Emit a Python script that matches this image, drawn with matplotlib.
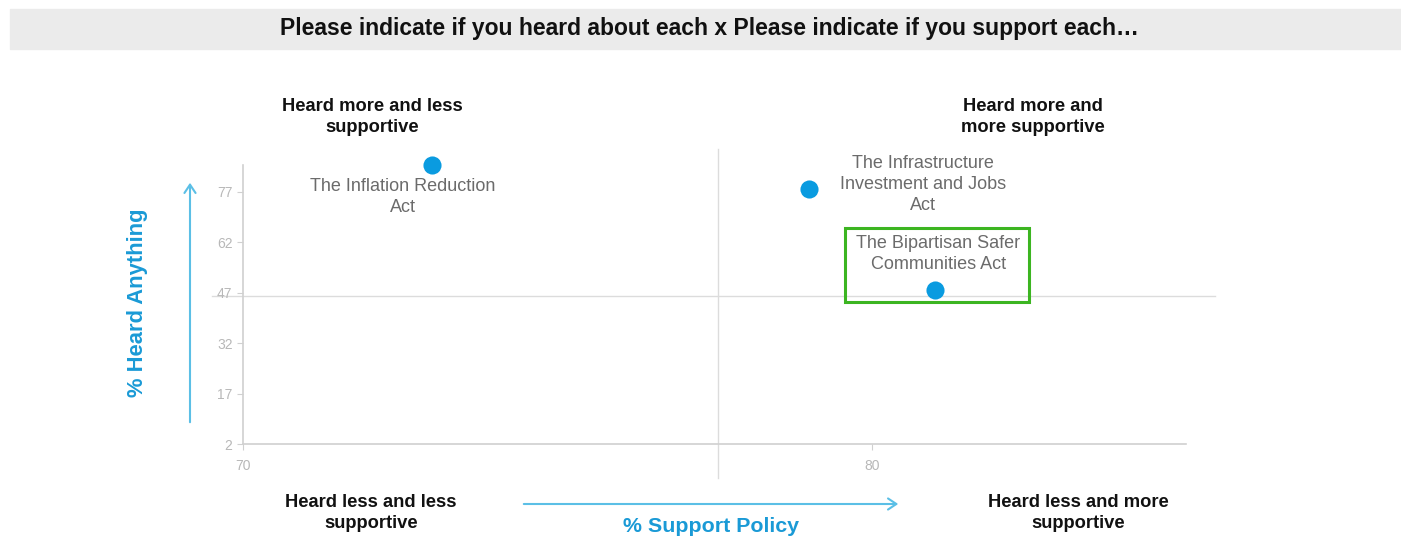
import matplotlib
matplotlib.use('Agg')
import matplotlib.pyplot as plt
from matplotlib.patches import Rectangle, FancyArrowPatch

plt.rcParams['font.family'] = ['Liberation Sans', 'DejaVu Sans']

policies = ['The Inflation Reduction\nAct',
            'The Infrastructure\nInvestment and Jobs\nAct',
            'The Bipartisan Safer\nCommunities Act']
support = [73.0, 79.0, 81.0]
heard = [84.9, 78.0, 47.7]
label_offsets = [(-29, -32), (114, 4), (4, 36)]  # pixels from the dot

x_ticks = [70, 80]
y_ticks = [2, 17, 32, 47, 62, 77]
x_mid = 77.55
y_mid = 46.0

TITLE = 'Please indicate if you heard about each x Please indicate if you support each\u2026'
quadrants = ['Heard more and less\nsupportive', 'Heard more and\nmore supportive',
             'Heard less and less\nsupportive', 'Heard less and more\nsupportive']

DOT = '#0a9be0'
ARROW = '#5bbfe6'
AXIS_LBL = '#1a9ad6'
GRID = '#dcdcdc'

fig = plt.figure(figsize=(14.01, 5.37), dpi=100)

# title band
fig.patches.append(Rectangle((10 / 1401, 1 - 49 / 537), 1391 / 1401, 40 / 537,
                             transform=fig.transFigure, color='#ebebeb', zorder=0))
fig.text(709 / 1401, 1 - 29 / 537, TITLE, ha='center', va='center', fontsize=16.5,
         fontweight='bold', color='#111111')

ax = fig.add_axes([243 / 1401, 1 - 444 / 537, 943 / 1401, 279 / 537])
ax.set_xlim(70, 85)
ax.set_ylim(2, 85)
ax.set_xticks(x_ticks)
ax.set_yticks(y_ticks)
for s in ['top', 'right']:
    ax.spines[s].set_visible(False)
for s in ['left', 'bottom']:
    ax.spines[s].set_color('#d0d0d0')
    ax.spines[s].set_linewidth(1.2)
ax.tick_params(colors='#d0d0d0', labelcolor='#b8b8b8', labelsize=10, length=4)
ax.tick_params(axis='x', pad=7)

# quadrant lines, running past the plot area
ax.plot([x_mid, x_mid], [-8.1, 89.9], color=GRID, lw=1, clip_on=False, zorder=1)
ax.plot([69.5, 85.46], [y_mid, y_mid], color=GRID, lw=1, clip_on=False, zorder=1)

ax.scatter(support, heard, s=170, color=DOT, zorder=3, clip_on=False, linewidths=0)
for name, x, y, off in zip(policies, support, heard, label_offsets):
    ax.annotate(name, (x, y), xytext=off, textcoords='offset pixels', ha='center',
                va='center', fontsize=13, color='#6b6b6b', linespacing=1.3)

# highlight box round the safer communities act
ax.add_patch(Rectangle((79.57, 44.2), 2.94, 22.2, fill=False, edgecolor='#3cb521',
                       lw=2.2, clip_on=False, zorder=4))

# quadrant captions
qpos = [(372, 117), (1033, 117), (371, 513), (1078, 513)]
for txt, (px, py) in zip(quadrants, qpos):
    fig.text(px / 1401, 1 - py / 537, txt, ha='center', va='center', fontsize=13.2,
             fontweight='bold', color='#111111', linespacing=1.3)

# axis arrows and titles
fig.patches.append(FancyArrowPatch((190 / 1401, 1 - 425 / 537), (190 / 1401, 1 - 180 / 537),
                                   transform=fig.transFigure, arrowstyle='->,head_length=6,head_width=4',
                                   color=ARROW, lw=1.5))
fig.patches.append(FancyArrowPatch((521 / 1401, 1 - 504 / 537), (901 / 1401, 1 - 504 / 537),
                                   transform=fig.transFigure, arrowstyle='->,head_length=6,head_width=4',
                                   color=ARROW, lw=1.5))
fig.text(137 / 1401, 1 - 303 / 537, '% Heard Anything', rotation=90, ha='center', va='center',
         fontsize=15.8, fontweight='bold', color=AXIS_LBL)
fig.text(711 / 1401, 1 - 526 / 537, '% Support Policy', ha='center', va='center',
         fontsize=15.4, fontweight='bold', color=AXIS_LBL)

fig.savefig('out.png', dpi=100)
